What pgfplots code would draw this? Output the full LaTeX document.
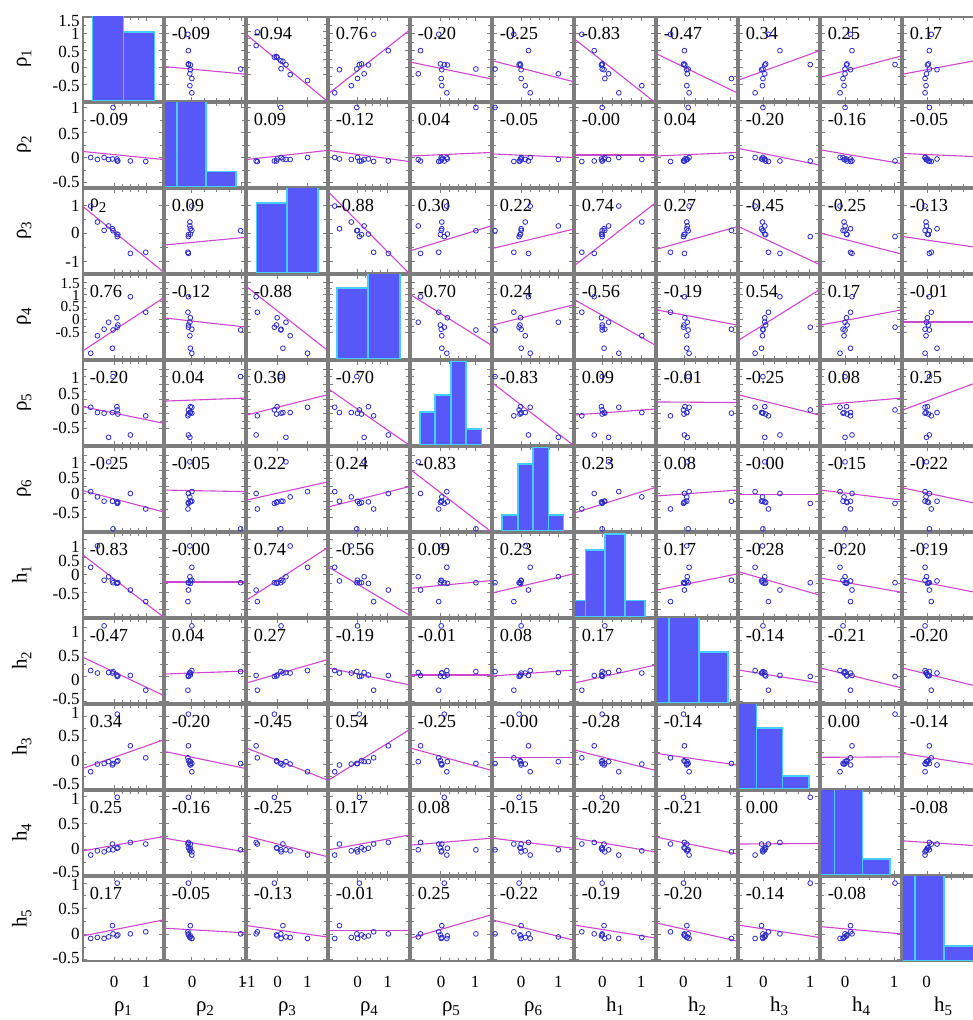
\documentclass[border=0pt]{standalone}
\usepackage{pgfplots}
\pgfplotsset{compat=1.18}
\usepackage{pgfplotstable}
\usepackage{fontspec}
\setmainfont{Liberation Serif}

\definecolor{ptc}{RGB}{45,45,200}
\definecolor{lnc}{RGB}{205,70,205}
\definecolor{hfill}{RGB}{88,88,248}
\definecolor{hedge}{RGB}{70,205,255}
\definecolor{frm}{RGB}{125,125,125}

\pgfplotstableread{
c1 c2 c3 c4 c5 c6 c7 c8 c9 c10 c11
-0.73 0.01 0.98 -1.33 -0.28 -0.18 0.22 0.13 -0.16 -0.11 -0.08
-0.52 -0.03 0.41 -0.63 -0.46 -0.35 0.83 0.08 0.00 -0.03 -0.06
-0.31 0.01 0.11 -0.37 -0.48 -0.49 -0.15 1.04 0.01 -0.05 -0.08
-0.17 -0.03 0.27 -0.09 -1.30 0.78 -0.05 0.09 0.05 -0.01 -0.05
-0.05 -0.02 0.17 -1.13 -0.46 -0.49 -0.17 0.08 -0.02 0.10 0.17
-0.03 1.01 0.10 -0.40 0.76 -1.38 -0.22 0.11 0.01 -0.01 0.01
0.09 -0.02 -0.02 0.09 -0.26 -0.51 -0.24 0.04 0.05 0.02 -0.03
0.10 -0.06 -0.11 -0.29 -0.37 -0.56 -0.22 0.01 1.04 0.99 1.00
0.12 -0.06 -0.04 -0.20 -0.51 -0.53 -0.22 0.02 0.07 0.03 -0.01
0.51 -0.06 -0.71 0.93 -1.22 -0.24 -0.43 0.03 0.38 0.13 0.01
0.99 -0.07 -0.67 0.31 -0.57 -0.74 -0.76 -0.27 0.13 0.10 0.05
}\smdata

\newcommand\smsetcol[4]{\expandafter\def\csname smxlo#1\endcsname{#2}\expandafter\def\csname smxhi#1\endcsname{#3}\expandafter\def\csname smxtk#1\endcsname{#4}}
\newcommand\smsetrow[4]{\expandafter\def\csname smylo#1\endcsname{#2}\expandafter\def\csname smyhi#1\endcsname{#3}\expandafter\def\csname smytk#1\endcsname{#4}}

\smsetcol{1}{-0.97}{1.53}{0,1}
\smsetcol{2}{-0.54}{1.10}{0.01,1.03}
\smsetcol{3}{-1.01}{1.62}{-1,0,0.98}
\smsetcol{4}{-1.57}{1.80}{-0.36,0.91}
\smsetcol{5}{-1.56}{1.30}{-0.49,0.73}
\smsetcol{6}{-1.45}{1.28}{-0.49,0.78}
\smsetcol{7}{-0.94}{1.18}{-0.21,0.81}
\smsetcol{8}{-0.56}{1.16}{0.03,1.02}
\smsetcol{9}{-0.51}{1.23}{0.02,1.03}
\smsetcol{10}{-0.49}{1.11}{-0.01,0.97}
\smsetcol{11}{-0.54}{1.13}{-0.02,0.98}

\smsetrow{1}{-0.97}{1.50}{-0.5,0,0.5,1,1.5}
\smsetrow{2}{-0.58}{1.10}{-0.5,0,0.5,1}
\smsetrow{3}{-1.41}{1.59}{-1,0,1}
\smsetrow{4}{-1.56}{1.80}{-0.5,0,0.5,1,1.5}
\smsetrow{5}{-1.56}{1.29}{-1,-0.5,0,0.5,1}
\smsetrow{6}{-1.45}{1.26}{-1,-0.5,0,0.5,1}
\smsetrow{7}{-1.20}{1.20}{-1,-0.5,0,0.5,1}
\smsetrow{8}{-0.53}{1.18}{-0.5,0,0.5,1}
\smsetrow{9}{-0.52}{1.23}{-0.5,0,0.5,1}
\smsetrow{10}{-0.49}{1.11}{-0.5,0,0.5,1}
\smsetrow{11}{-0.52}{1.12}{-0.5,0,0.5,1}

\newcommand\smfs{\fontsize{9.2}{10}\selectfont}
\newcommand\smtfs{\fontsize{8.5}{9}\selectfont}
\newcommand\smtfss{\fontsize{7.6}{8}\selectfont}
\newcommand\smlab[2]{#1\raisebox{-0.5ex}{\fontsize{7.5}{8}\selectfont #2}}

\pgfplotsset{
  smcellax/.style={scale only axis, width=40pt, height=42pt, anchor=north west,
    axis line style={frm, line width=0.95pt}, tick style={frm, line width=0.5pt},
    major tick length=2.2pt, minor tick length=1.4pt, tick align=inside,
    minor x tick num=3, minor y tick num=1,
    xticklabel=\empty, yticklabel=\empty},
  smpts/.style={only marks, mark=o, mark size=1.2pt, color=ptc, mark options={line width=0.4pt}},
}
\tikzset{smrtext/.style={anchor=west, inner sep=0pt, font=\smfs}}

\newcommand\smprep[2]{%
  \edef\smtmp{\noexpand\pgfplotsset{smcur/.style={xmin=\csname smxlo#2\endcsname, xmax=\csname smxhi#2\endcsname, ymin=\csname smylo#1\endcsname, ymax=\csname smyhi#1\endcsname, xtick={\csname smxtk#2\endcsname}, ytick={\csname smytk#1\endcsname}}}}\smtmp
}

% [extra opts]{row}{col}{r text}{line y at xmin}{line y at xmax}
\newcommand\smcell[6][]{%
  \smprep{#2}{#3}%
  \edef\smXL{\csname smxlo#3\endcsname}\edef\smXR{\csname smxhi#3\endcsname}%
  \begin{axis}[smcellax, smcur, #1, at={({41.5pt+41pt*(#3-1)},{501.5pt-43pt*(#2-1)})}]
    \addplot[smpts] table[x=c#3, y=c#2] {\smdata};
    \addplot[lnc, line width=0.55pt] coordinates {(\smXL,#5) (\smXR,#6)};
    \node[smrtext] at (rel axis cs:0.08,0.80) {#4};
  \end{axis}}

\newcommand\smhcell[2]{%
  \smprep{#1}{#1}%
  \edef\smXL{\csname smxlo#1\endcsname}\edef\smXR{\csname smxhi#1\endcsname}%
  \begin{axis}[smcellax, smcur, at={({41.5pt+41pt*(#1-1)},{501.5pt-43pt*(#1-1)})}]
  \end{axis}
  \begin{axis}[smcellax, hide axis, at={({41.5pt+41pt*(#1-1)},{501.5pt-43pt*(#1-1)})},
     xmin=\smXL, xmax=\smXR, ymin=0, ymax=84]
    \addplot[ybar interval, fill=hfill, draw=hedge, line width=0.8pt] coordinates {#2};
  \end{axis}}

\begin{document}
\begin{tikzpicture}
\path[use as bounding box] (0,0) rectangle (486pt,510pt);

% row 1
\smhcell{1}{(-0.67,100) (0.29,69) (1.26,0)}
\smcell{1}{2}{-0.09}{0.04}{-0.18}
\smcell[ymin=-1.45,ymax=1.52]{1}{3}{-0.94}{0.88}{-1.45}
\smcell{1}{4}{0.76}{-0.74}{1.10}
\smcell{1}{5}{-0.20}{0.17}{-0.32}
\smcell{1}{6}{-0.25}{0.21}{-0.40}
\smcell{1}{7}{-0.83}{0.84}{-1.01}
\smcell{1}{8}{-0.47}{0.41}{-0.73}
\smcell{1}{9}{0.34}{-0.35}{0.50}
\smcell{1}{10}{0.25}{-0.27}{0.35}
\smcell{1}{11}{0.17}{-0.18}{0.26}
% row 2
\smcell{2}{1}{-0.09}{0.13}{-0.03}
\smhcell{2}{(-0.90,100) (-0.30,100) (0.30,15.3) (0.91,0)}
\smcell{2}{3}{0.09}{-0.03}{0.15}
\smcell{2}{4}{-0.12}{0.15}{-0.07}
\smcell{2}{5}{0.04}{0.04}{0.11}
\smcell{2}{6}{-0.05}{0.08}{0.01}
\smcell{2}{7}{-0.00}{0.06}{0.06}
\smcell{2}{8}{0.04}{0.04}{0.11}
\smcell{2}{9}{-0.20}{0.19}{-0.14}
\smcell{2}{10}{-0.16}{0.16}{-0.11}
\smcell{2}{11}{-0.05}{0.09}{0.02}
% row 3
\smcell{3}{1}{\smlab{ρ}{2}}{0.96}{-1.36}
\smcell{3}{2}{0.09}{-0.41}{-0.14}
\smhcell{3}{(-0.70,69.7) (0.30,100) (1.32,0)}
\smcell{3}{4}{-0.88}{1.46}{-1.42}
\smcell{3}{5}{0.30}{-0.61}{0.27}
\smcell{3}{6}{0.22}{-0.53}{0.15}
\smcell{3}{7}{0.74}{-1.13}{1.08}
\smcell{3}{8}{0.27}{-0.56}{0.24}
\smcell{3}{9}{-0.45}{0.24}{-1.10}
\smcell{3}{10}{-0.25}{0.01}{-0.73}
\smcell{3}{11}{-0.13}{-0.11}{-0.53}
% row 4
\smcell{4}{1}{0.76}{-1.23}{0.87}
\smcell{4}{2}{-0.12}{0.08}{-0.28}
\smcell{4}{3}{-0.88}{1.32}{-1.20}
\smhcell{4}{(-1.23,71) (0.08,100) (1.43,0)}
\smcell{4}{5}{-0.70}{1.00}{-1.00}
\smcell{4}{6}{0.24}{-0.20}{0.60}
\smcell{4}{7}{-0.56}{0.80}{-1.00}
\smcell{4}{8}{-0.19}{0.40}{-0.20}
\smcell{4}{9}{0.54}{-0.80}{1.20}
\smcell{4}{10}{0.17}{-0.20}{0.40}
\smcell{4}{11}{-0.01}{-0.08}{-0.08}
% row 5
\smcell{5}{1}{-0.20}{-0.26}{-0.82}
\smcell{5}{2}{0.04}{-0.07}{0.03}
\smcell{5}{3}{0.30}{-0.54}{0.14}
\smcell{5}{4}{-0.70}{0.33}{-1.56}
\smhcell{5}{(-1.24,32.7) (-0.70,50) (-0.14,83.3) (0.40,16) (0.96,0)}
\smcell{5}{6}{-0.83}{0.53}{-1.56}
\smcell{5}{7}{0.09}{-0.54}{-0.34}
\smcell{5}{8}{-0.01}{-0.10}{-0.12}
\smcell{5}{9}{-0.25}{0.14}{-0.54}
\smcell{5}{10}{0.08}{-0.20}{0.03}
\smcell{5}{11}{0.25}{-0.37}{0.64}
% row 6
\smcell{6}{1}{-0.25}{-0.15}{-0.83}
\smcell{6}{2}{-0.05}{-0.13}{-0.18}
\smcell{6}{3}{0.22}{-0.45}{0.13}
\smcell{6}{4}{0.24}{-0.67}{-0.02}
\smcell{6}{5}{-0.83}{0.52}{-1.47}
\smhcell{6}{(-1.15,16) (-0.60,66.7) (-0.09,83.3) (0.44,16) (0.95,0)}
\smcell{6}{7}{0.23}{-0.86}{-0.05}
\smcell{6}{8}{0.08}{-0.32}{-0.13}
\smcell{6}{9}{-0.00}{-0.26}{-0.26}
\smcell{6}{10}{-0.15}{-0.13}{-0.45}
\smcell{6}{11}{-0.22}{-0.06}{-0.61}
% row 7
\smcell{7}{1}{-0.83}{0.57}{-1.19}
\smcell{7}{2}{-0.00}{-0.20}{-0.20}
\smcell{7}{3}{0.74}{-0.71}{0.77}
\smcell{7}{4}{-0.56}{0.22}{-1.14}
\smcell{7}{5}{0.09}{-0.38}{-0.16}
\smcell{7}{6}{0.23}{-0.51}{0.03}
\smhcell{7}{(-1.20,16.3) (-0.66,67) (-0.14,83) (0.39,16.3) (0.92,0)}
\smcell{7}{8}{0.17}{-0.43}{0.03}
\smcell{7}{9}{-0.28}{0.09}{-0.57}
\smcell{7}{10}{-0.20}{-0.09}{-0.49}
\smcell{7}{11}{-0.19}{-0.09}{-0.54}
% row 8
\smcell{8}{1}{-0.47}{0.40}{-0.37}
\smcell{8}{2}{0.04}{0.06}{0.12}
\smcell{8}{3}{0.27}{-0.12}{0.35}
\smcell{8}{4}{-0.19}{0.18}{-0.16}
\smcell{8}{5}{-0.01}{0.04}{0.04}
\smcell{8}{6}{0.08}{0.02}{0.14}
\smcell{8}{7}{0.17}{-0.12}{0.24}
\smhcell{8}{(-0.90,100) (-0.30,100) (0.34,51) (0.97,0)}
\smcell{8}{9}{-0.14}{0.14}{-0.12}
\smcell{8}{10}{-0.21}{0.18}{-0.22}
\smcell{8}{11}{-0.20}{0.18}{-0.22}
% row 9
\smcell{9}{1}{0.34}{-0.09}{0.50}
\smcell{9}{2}{-0.20}{0.26}{-0.09}
\smcell{9}{3}{-0.45}{0.33}{-0.33}
\smcell{9}{4}{0.54}{-0.33}{0.71}
\smcell{9}{5}{-0.25}{0.33}{-0.13}
\smcell{9}{6}{-0.00}{0.13}{0.13}
\smcell{9}{7}{-0.28}{0.29}{-0.13}
\smcell{9}{8}{-0.14}{0.22}{-0.02}
\smhcell{9}{(-0.70,100) (-0.13,61) (0.44,13) (1.01,0)}
\smcell{9}{10}{0.00}{0.14}{0.15}
\smcell{9}{11}{-0.14}{0.22}{-0.04}
% row 10
\smcell{10}{1}{0.25}{-0.03}{0.24}
\smcell{10}{2}{-0.16}{0.21}{-0.05}
\smcell{10}{3}{-0.25}{0.25}{-0.14}
\smcell{10}{4}{0.17}{-0.01}{0.27}
\smcell{10}{5}{0.08}{0.08}{0.21}
\smcell{10}{6}{-0.15}{0.21}{0.02}
\smcell{10}{7}{-0.20}{0.21}{-0.05}
\smcell{10}{8}{-0.21}{0.23}{-0.09}
\smcell{10}{9}{0.00}{0.10}{0.11}
\smhcell{10}{(-0.80,100) (-0.22,100) (0.34,15.7) (0.89,0)}
\smcell{10}{11}{-0.08}{0.16}{0.06}
% row 11
\smcell{11}{1}{0.17}{-0.03}{0.28}
\smcell{11}{2}{-0.05}{0.12}{0.03}
\smcell{11}{3}{-0.13}{0.17}{-0.05}
\smcell{11}{4}{-0.01}{0.08}{0.08}
\smcell{11}{5}{0.25}{-0.07}{0.38}
\smcell{11}{6}{-0.22}{0.28}{-0.11}
\smcell{11}{7}{-0.19}{0.18}{-0.07}
\smcell{11}{8}{-0.20}{0.22}{-0.13}
\smcell{11}{9}{-0.14}{0.18}{-0.06}
\smcell{11}{10}{-0.08}{0.15}{0.01}
\smhcell{11}{(-0.90,100) (-0.29,100) (0.32,15) (0.93,0)}

% y tick labels (left column), positions in reference pixels
\foreach \p/\t in {21/1.5,34/1,52/0.5,68/0,86/-0.5,
  108/1,134/0.5,158/0,182/-0.5,
  206/1,233/0,262/-1,
  378/1,394/0.5,410/0,428/-0.5,
  463/1,478/0.5,494/0,513/-0.5,
  547/1,561/0.5,575/0,594/-0.5,
  632/1,656/0.5,680/0,699/-0.5,
  713/1,736/0.5,761/0,784/-0.5,
  799/1,824/0.5,849/0,872/-0.5,
  885/1,909/0.5,934/0,958/-0.5}{
  \node[anchor=east, inner sep=0pt, font=\smtfs] at (40pt,{(1020-\p)*0.5pt}) {\t};
}
% row 4 labels are tightly stacked in the reference
\foreach \p/\t in {283.5/1.5,295.5/1,307/0.5,319.5/0,332.5/-0.5}{
  \node[anchor=east, inner sep=0pt, font=\smtfss] at (40pt,{(1020-\p)*0.5pt}) {\t};
}
% x tick labels (bottom row)
\foreach \p/\t in {114/0,146/1,192/0,242/1,248.5/-1,277.7/0,307.3/1,357.7/0,387.7/1,
  441/0,475/1,521/0,558.3/1,602.3/0,641/1,683.3/0,729.3/1,763.3/0,810/1,845/0,894/1,926.7/0}{
  \node[inner sep=0pt, font=\smtfs] at ({\p*0.5pt},19pt) {\t};
}
% row and column labels
\foreach \i/\t/\s in {1/ρ/1,2/ρ/2,3/ρ/3,4/ρ/4,5/ρ/5,6/ρ/6,7/h/1,8/h/2,9/h/3,10/h/4,11/h/5}{
  \node[rotate=90, anchor=base, font=\fontsize{10.5}{11}\selectfont] at (13.25pt,{480.5pt-43pt*(\i-1)}) {\smlab{\t}{\s}};
  \node[anchor=base, font=\fontsize{10.5}{11}\selectfont] at ({61.5pt+41pt*(\i-1)},4.5pt) {\smlab{\t}{\s}};
}
\end{tikzpicture}
\end{document}
